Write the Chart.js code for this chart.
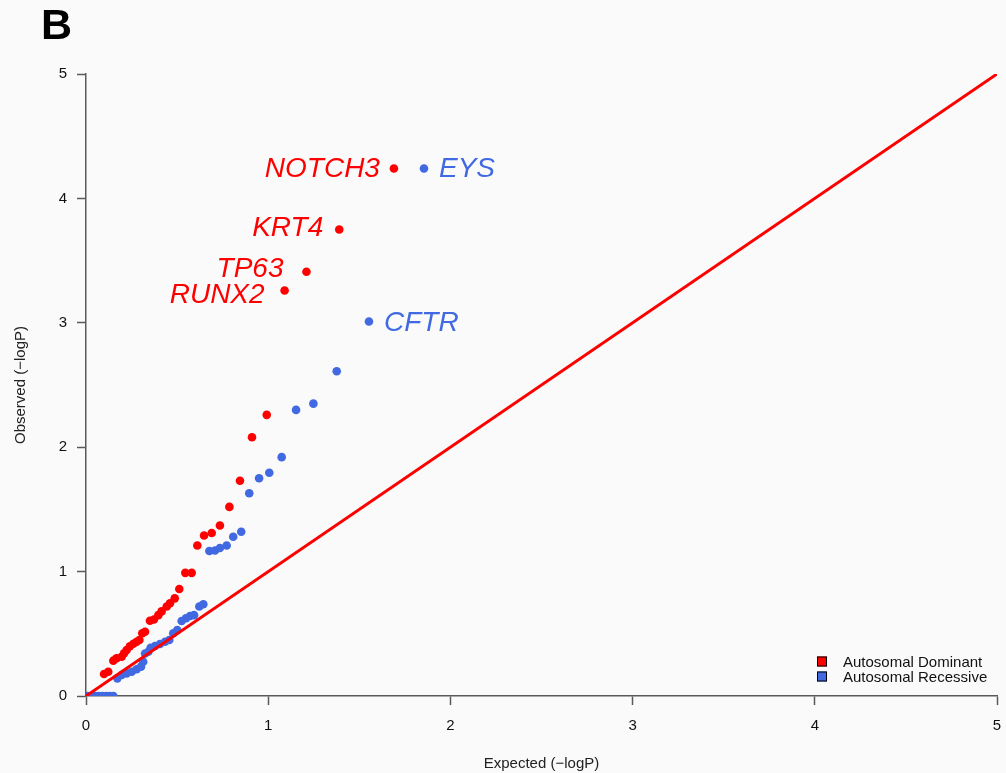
<!DOCTYPE html>
<html>
<head>
<meta charset="utf-8">
<script src="https://cdn.jsdelivr.net/npm/chart.js@4"></script>
<style>
  body { margin: 0; background: #fafafa; }
  #wrap { position: relative; width: 1006px; height: 773px; }
  #panel { position: absolute; left: 41px; top: 3px; font: bold 43px 'Liberation Sans', Arial, sans-serif; line-height: 1; color: #000; }
</style>
</head>
<body>
<div id="wrap">
  <canvas id="qq"></canvas>
  <div id="panel">B</div>
</div>
<script>
// ── Données ─────────────────────────────────────────────────────────────────
const adExpected = [0.099, 0.122, 0.150, 0.168, 0.196, 0.209, 0.223, 0.241, 0.260, 0.278, 0.293, 0.309,
  0.324, 0.351, 0.373, 0.397, 0.415, 0.443, 0.461, 0.487, 0.512, 0.545, 0.580, 0.611, 0.648, 0.690,
  0.735, 0.787, 0.845, 0.911, 0.992, 1.09, 1.21, 1.39, 1.69];
const adObserved = [0.177, 0.195, 0.284, 0.303, 0.316, 0.343, 0.370, 0.400, 0.420, 0.436, 0.450, 0.504,
  0.517, 0.605, 0.615, 0.650, 0.680, 0.720, 0.745, 0.785, 0.860, 0.990, 0.990, 1.210, 1.290, 1.310,
  1.370, 1.520, 1.730, 2.080, 2.260, 3.26, 3.41, 3.75, 4.24];
const adGenes = ['RUNX2', 'TP63', 'KRT4', 'NOTCH3']; // 4 derniers points AD

const arExpected = [0.01, 0.03, 0.05, 0.07, 0.09, 0.11, 0.13, 0.15, 0.172, 0.196, 0.223, 0.251, 0.278,
  0.302, 0.314, 0.324, 0.342, 0.355, 0.379, 0.406, 0.434, 0.457, 0.479, 0.501, 0.525, 0.549, 0.571,
  0.593, 0.622, 0.644, 0.677, 0.708, 0.735, 0.772, 0.808, 0.852, 0.896, 0.950, 1.006, 1.074, 1.153,
  1.248, 1.376, 1.553, 1.855];
const arObserved = [0, 0, 0, 0, 0, 0, 0, 0, 0.142, 0.169, 0.182, 0.195, 0.215,
  0.236, 0.276, 0.342, 0.356, 0.388, 0.402, 0.418, 0.436, 0.450, 0.504, 0.530, 0.603, 0.625, 0.643,
  0.650, 0.720, 0.737, 1.165, 1.170, 1.190, 1.210, 1.280, 1.320, 1.630, 1.750, 1.795, 1.920, 2.300,
  2.350, 2.610, 3.010, 4.240];
const arGenes = ['CFTR', 'EYS']; // 2 derniers points AR

const axisTicks = [0, 1, 2, 3, 4, 5];
const nullLine  = [0, 5];

const RED  = '#ff0000';
const BLUE = '#4169e1';
const FONT = "'Liberation Sans', Arial, Helvetica, sans-serif";

Chart.defaults.font.family = FONT;

const toPoints = (xs, ys) => xs.map((x, i) => ({ x, y: ys[i] }));

// ── Étiquettes des gènes ─────────────────────────────────────────────────────
// décalage [dx, dy baseline] par rapport au point
const geneNudge = {
  NOTCH3: [-14, 8], KRT4: [-16, 6], TP63: [-23, 5], RUNX2: [-20, 13],
  EYS: [15, 8], CFTR: [15, 9],
};

const geneLabels = {
  id: 'geneLabels',
  afterDatasetsDraw(chart) {
    const ctx = chart.ctx;
    ctx.save();
    ctx.font = `italic 28px ${FONT}`;
    ctx.textBaseline = 'alphabetic';
    chart.data.datasets.forEach((ds, di) => {
      if (!ds.genes) return;
      const pts = chart.getDatasetMeta(di).data;
      const first = pts.length - ds.genes.length;
      ds.genes.forEach((g, k) => {
        const p = pts[first + k];
        const [dx, dy] = geneNudge[g] || [0, 0];
        ctx.fillStyle = ds.backgroundColor;
        ctx.textAlign = dx < 0 ? 'right' : 'left';
        ctx.fillText(g, p.x + dx, p.y + dy);
      });
    });
    ctx.restore();
  },
};

// ── Légende (coin bas droit, dans la zone du graphe) ─────────────────────────
const cornerLegend = {
  id: 'cornerLegend',
  afterDraw(chart) {
    const { ctx, chartArea } = chart;
    const items = chart.data.datasets.filter(d => d.inLegend);
    ctx.save();
    ctx.font = `15px ${FONT}`;
    ctx.textBaseline = 'middle';
    ctx.textAlign = 'left';
    items.forEach((d, i) => {
      const cy = chartArea.bottom - 34.5 + i * 15;
      const sx = chartArea.right - 180;
      ctx.fillStyle = d.backgroundColor;
      ctx.fillRect(sx, cy - 5, 10, 10);
      ctx.strokeStyle = '#000';
      ctx.lineWidth = 1;
      ctx.strokeRect(sx + 0.5, cy - 4.5, 9, 9);
      ctx.fillStyle = '#111';
      ctx.fillText(d.label, sx + 26, cy + 1);
    });
    ctx.restore();
  },
};

const axisCommon = {
  type: 'linear',
  min: 0,
  max: 5,
  afterBuildTicks: s => { s.ticks = axisTicks.map(v => ({ value: v })); },
  grid: { drawOnChartArea: false, drawTicks: true, tickLength: 9, tickWidth: 1.5, tickColor: '#5a5a5a' },
  border: { display: true, color: '#5a5a5a', width: 1.5 },
  ticks: { color: '#111', font: { size: 15 } },
  title: { display: true, color: '#222', font: { size: 15 } },
};

new Chart(document.getElementById('qq'), {
  type: 'scatter',
  data: {
    datasets: [
      {
        label: 'y = x',
        data: toPoints(nullLine, nullLine),
        showLine: true,
        borderColor: RED,
        borderWidth: 3,
        pointRadius: 0,
        clip: 0,
      },
      {
        label: 'Autosomal Dominant',
        data: toPoints(adExpected, adObserved),
        backgroundColor: RED,
        borderWidth: 0,
        pointRadius: 4.3,
        genes: adGenes,
        inLegend: true,
        clip: 0,
      },
      {
        label: 'Autosomal Recessive',
        data: toPoints(arExpected, arObserved),
        backgroundColor: BLUE,
        borderWidth: 0,
        pointRadius: 4.3,
        genes: arGenes,
        inLegend: true,
        clip: 0,
      },
    ],
  },
  options: {
    responsive: true,
    maintainAspectRatio: false,
    animation: false,
    layout: { padding: { top: 74, right: 9, left: 0, bottom: 0 } },
    plugins: { legend: { display: false }, tooltip: { enabled: false } },
    scales: {
      x: {
        ...axisCommon,
        position: 'bottom',
        afterFit: s => { s.height = 77; s.paddingLeft = 0; s.paddingRight = 0; },
        ticks: { ...axisCommon.ticks, padding: 12, maxRotation: 0 },
        title: { ...axisCommon.title, text: 'Expected (\u2212logP)', padding: { top: 0, bottom: 0 } },
      },
      y: {
        ...axisCommon,
        position: 'left',
        afterFit: s => { s.width = 86; s.paddingTop = 0; s.paddingBottom = 0; },
        ticks: { ...axisCommon.ticks, padding: 10 },
        title: { ...axisCommon.title, text: 'Observed (\u2212logP)', padding: { top: 12, bottom: 12 } },
      },
    },
  },
  plugins: [geneLabels, cornerLegend],
});
</script>
</body>
</html>
